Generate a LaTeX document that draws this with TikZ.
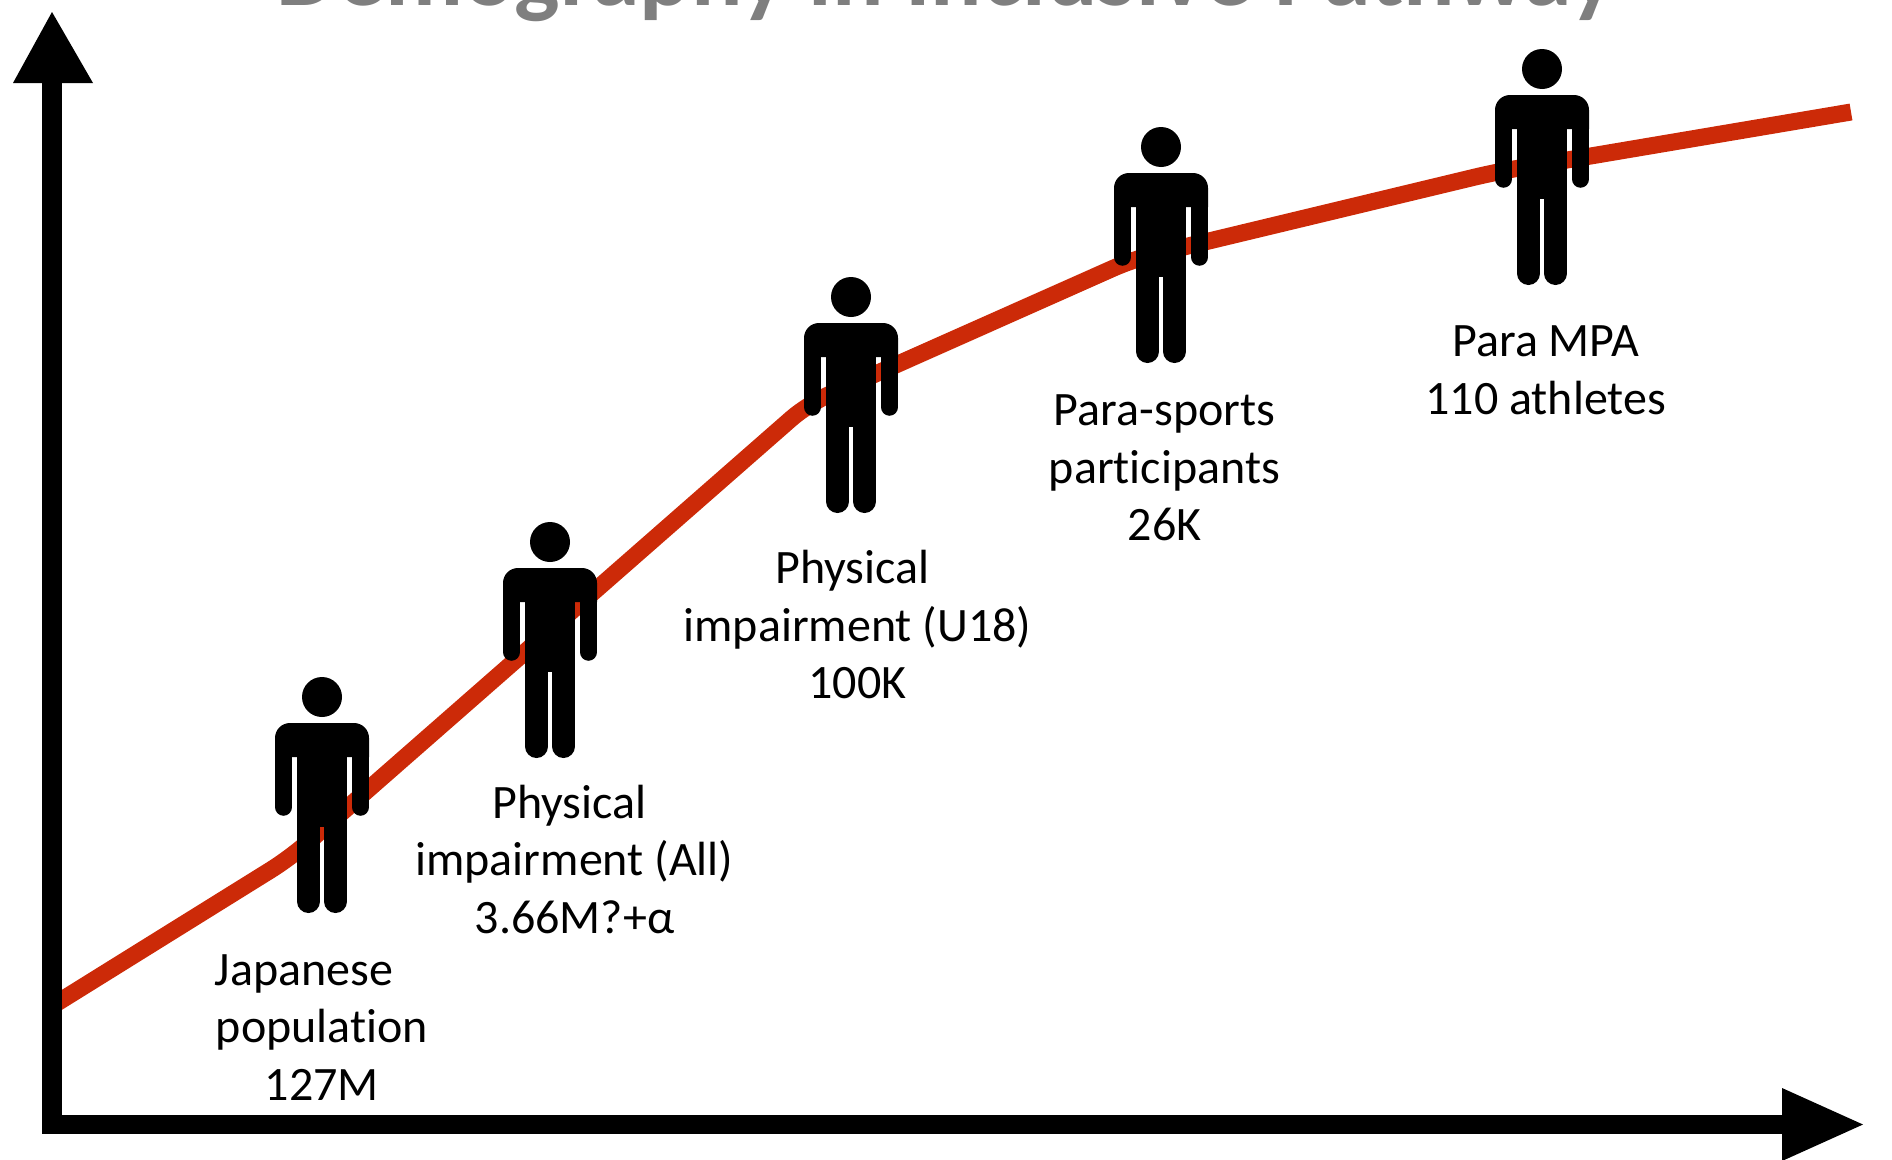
\documentclass[tikz,border=0pt]{standalone}
\usepackage{fontspec}
\setmainfont[Ligatures=NoCommon]{Carlito}
\definecolor{curvered}{HTML}{CC2A08}
\definecolor{titlegrey}{HTML}{7F7F7F}
\tikzset{
  person/.pic={
    \fill (0,0) circle (20);
    \fill (-47,60) [rounded corners=15] -- (-47,26) -- (47,26) [sharp corners] -- (47,60) -- cycle;
    \fill (-25,50) rectangle (25,130);
    \draw[line width=17.5,line cap=round] (-38.5,50) -- (-38.5,110);
    \draw[line width=17.5,line cap=round] (38.5,50) -- (38.5,110);
    \draw[line width=23,line cap=round] (-13.5,120) -- (-13.5,204.5);
    \draw[line width=23,line cap=round] (13.5,120) -- (13.5,204.5);
  },
  label/.style={align=center,inner sep=0pt,font=\fontsize{48}{57.5}\selectfont},
  axisline/.style={line width=20,draw=black},
  curve/.style={line width=17,draw=curvered,rounded corners=22}
}
\begin{document}
\begin{tikzpicture}[x=1pt,y=-1pt]
\useasboundingbox (0,0) rectangle (1892,1159);
\clip (0,0) rectangle (1892,1159);
\node[anchor=base,inner sep=0pt,text=titlegrey,font=\fontsize{96}{110}\selectfont\bfseries] (title) at (946,5.5) {Demography in Inclusive Pathway};
\draw[curve,line cap=butt] (52,1006) -- (290,858) -- (808,404) -- (1134,259) -- (1496,172) -- (1851,112);
\coordinate (origin) at (52,1124.5);
\coordinate (ytip) at (52,83);
\coordinate (xtip) at (1782,1124.5);
\draw[axisline,line cap=square] (ytip) -- (origin);
\draw[line width=19,draw=black] (42,1124.5) -- (xtip);
\fill (52,12) -- (93,83) -- (13,83) -- cycle;
\fill (1863,1124.5) -- (1782,1088) -- (1782,1161) -- cycle;
\pic at (322,697) {person};
\pic at (550,542) {person};
\pic at (851,297) {person};
\pic at (1161,147) {person};
\pic at (1542,69) {person};
\node[label] (japan) at (322,1027.5) {Japanese\hspace*{36pt}\\population\\127M};
\node[label] (all) at (574.5,859.5) {Physical\hspace*{10pt}\\impairment (All)\\3.66M?+α};
\node[label] (u18) at (857.5,624.5) {Physical\hspace*{10pt}\\impairment (U18)\\100K};
\node[label] (sports) at (1164.5,468) {Para-sports\\participants\\26K};
\node[label] (mpa) at (1545.6,370.5) {Para MPA\\110 athletes};
\end{tikzpicture}
\end{document}
